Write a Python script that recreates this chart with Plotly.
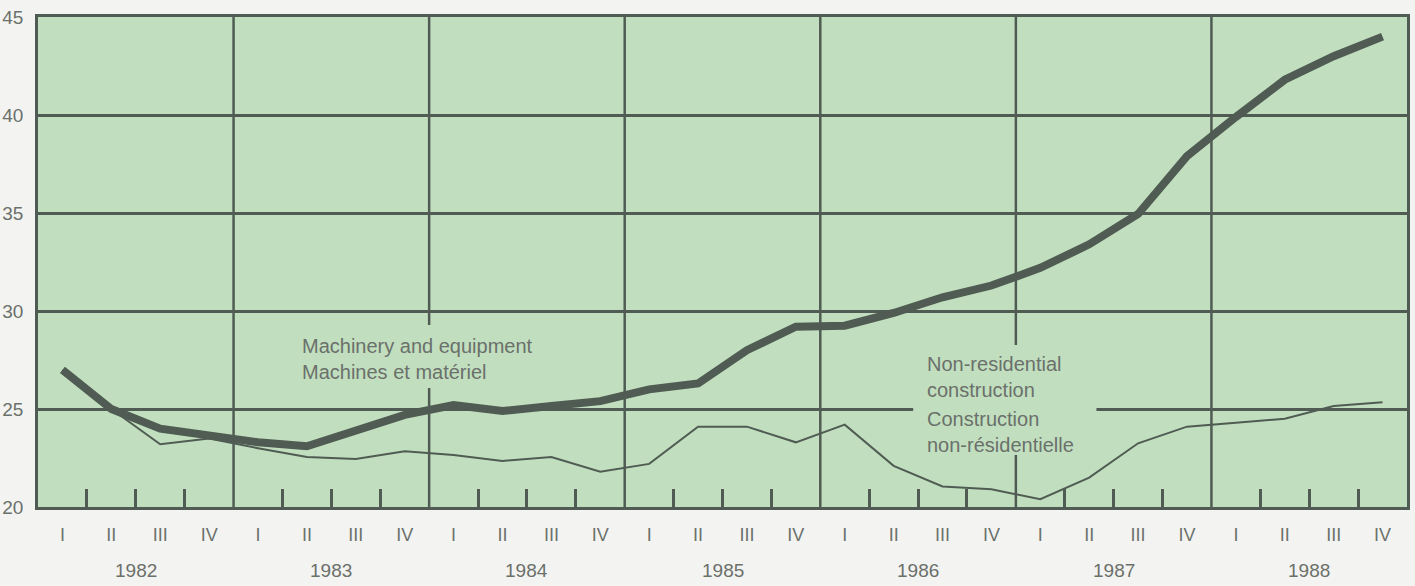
import plotly.graph_objects as go

years = [1982, 1983, 1984, 1985, 1986, 1987, 1988]
quarters = ["I", "II", "III", "IV"]

machinery = [27.0, 25.0, 24.0, 23.6, 23.3, 23.1, 23.9, 24.7,
             25.2, 24.9, 25.15, 25.4, 26.0, 26.3, 28.0, 29.2,
             29.25, 29.9, 30.7, 31.3, 32.2, 33.4, 34.95, 37.9,
             39.9, 41.8, 43.0, 44.0]
construction = [27.0, 25.0, 23.2, 23.5, 23.0, 22.55, 22.45, 22.85,
                22.65, 22.35, 22.55, 21.8, 22.2, 24.1, 24.1, 23.3,
                24.2, 22.1, 21.05, 20.9, 20.4, 21.5, 23.25, 24.1,
                24.3, 24.5, 25.15, 25.35]

label_machinery = "Machinery and equipment<br>Machines et matériel"
label_constr_en = "Non-residential<br>construction"
label_constr_fr = "Construction<br>non-résidentielle"

GREEN = "#c1dfbf"
PAPER = "#f3f4f1"
DARK = "#505c53"
TEXT = "#6b706b"
FONT = "Liberation Sans"

x_pts = [y + (q + 0.5) / 4 for y in years for q in range(4)]
q_text = [quarters[q] for y in years for q in range(4)]
minor_vals = [y + q / 4 for y in years for q in range(1, 4)]

fig = go.Figure()
fig.add_trace(go.Scatter(x=x_pts, y=construction, mode="lines",
                         line=dict(color=DARK, width=2), name="construction",
                         hoverinfo="skip"))
fig.add_trace(go.Scatter(x=x_pts, y=machinery, mode="lines",
                         line=dict(color=DARK, width=8), name="machinery",
                         hoverinfo="skip"))

# year separators
for yr in years[1:]:
    fig.add_shape(type="line", xref="x", yref="paper", x0=yr, x1=yr, y0=0, y1=1,
                  line=dict(color=DARK, width=2.5), layer="between")

# label backgrounds (interrupt gridlines)
fig.add_shape(type="rect", xref="x", yref="y", x0=1983.29, x1=1984.62, y0=26.07, y1=29.29,
              fillcolor=GREEN, line=dict(width=0), layer="between")
fig.add_shape(type="rect", xref="x", yref="y", x0=1986.475, x1=1987.412, y0=22.65, y1=28.27,
              fillcolor=GREEN, line=dict(width=0), layer="between")

ann_font = dict(family=FONT, size=20, color=TEXT)
fig.add_annotation(x=1983.342, y=27.55, xref="x", yref="y", text=label_machinery,
                   showarrow=False, xanchor="left", yanchor="middle", align="left", font=ann_font)
fig.add_annotation(x=1986.537, y=26.62, xref="x", yref="y", text=label_constr_en,
                   showarrow=False, xanchor="left", yanchor="middle", align="left", font=ann_font)
fig.add_annotation(x=1986.537, y=23.82, xref="x", yref="y", text=label_constr_fr,
                   showarrow=False, xanchor="left", yanchor="middle", align="left", font=ann_font)

for yr in years:
    fig.add_annotation(x=yr + 0.5, y=-0.1286, xref="x", yref="paper", text=str(yr),
                       showarrow=False, xanchor="center", yanchor="middle",
                       font=dict(family=FONT, size=19, color=TEXT))

fig.update_layout(
    width=1415, height=586,
    margin=dict(l=38, r=8, t=17, b=79, autoexpand=False),
    paper_bgcolor=PAPER, plot_bgcolor=GREEN,
    showlegend=False,
    xaxis=dict(range=[1982, 1989], tickmode="array", tickvals=x_pts, ticktext=q_text,
               ticks="", showgrid=False, zeroline=False, automargin=False,
               showline=True, mirror=True, linecolor=DARK, linewidth=2.5,
               ticklabelstandoff=10,
               tickfont=dict(family=FONT, size=18, color=TEXT),
               minor=dict(tickmode="array", tickvals=minor_vals, ticks="inside",
                          ticklen=18, tickwidth=2.5, tickcolor=DARK, showgrid=False)),
    yaxis=dict(range=[20, 45], dtick=5, tick0=20, showgrid=True, gridcolor=DARK, gridwidth=2.5,
               zeroline=False, showline=True, mirror=True, linecolor=DARK, linewidth=2.5,
               ticks="", ticklabelstandoff=8, automargin=False,
               tickfont=dict(family=FONT, size=19, color=TEXT)),
)

fig.write_html("out.html", config={"displayModeBar": False},
               post_script="document.body.style.margin='0';document.body.style.padding='0';")
